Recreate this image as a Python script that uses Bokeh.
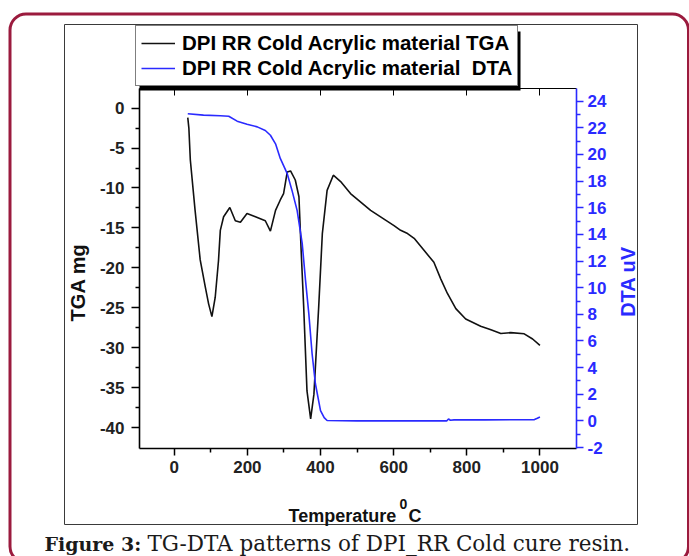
import math
from bokeh.plotting import figure
from bokeh.models import (LinearAxis, Range1d, FixedTicker, Legend, LegendItem,
                          Label, BoxAnnotation)
from bokeh.embed import file_html
from bokeh.resources import INLINE

# ---- data ----
temp_tga = [37, 40, 44, 57, 71, 85, 94, 103, 112, 121, 126, 135, 152, 167, 181, 199,
            222, 249, 263, 277, 290, 299, 309, 318, 331, 341, 347, 354, 363, 373,
            382, 395, 405, 418, 435, 455, 482, 537, 601, 619, 638, 656, 683, 710,
            729, 747, 770, 797, 838, 866, 893, 920, 957, 980, 1000]
tga = [-1.2, -2.5, -6.5, -12.8, -19.0, -22.4, -24.5, -26.1, -23.7, -19.1, -15.3,
       -13.6, -12.45, -14.1, -14.3, -13.2, -13.6, -14.1, -15.4, -12.8, -11.5, -10.7,
       -8.0, -7.86, -9.0, -11.1, -17.8, -24.9, -35.4, -38.9, -35.8, -24.9, -15.7,
       -10.3, -8.4, -9.2, -10.7, -12.8, -14.7, -15.3, -15.7, -16.3, -17.8, -19.3,
       -21.4, -23.2, -25.1, -26.4, -27.3, -27.75, -28.2, -28.1, -28.25, -28.9, -29.7]

temp_dta = [37, 80, 126, 149, 172, 199, 227, 249, 263, 277, 290, 309, 322, 336,
            350, 359, 368, 377, 386, 400, 410, 418, 500, 600, 700, 745, 750, 755,
            765, 850, 985, 993, 1000]
dta = [23.05, 22.95, 22.9, 22.87, 22.5, 22.27, 22.07, 21.8, 21.44, 20.8, 19.7,
       18.56, 17.3, 15.8, 13.3, 10.55, 8.05, 5.04, 2.79, 0.78, 0.25, 0.03, 0.0,
       0.0, 0.0, 0.0, 0.15, 0.05, 0.08, 0.08, 0.1, 0.2, 0.3]

x_ticks = [0, 200, 400, 600, 800, 1000]
x_minor = [100, 300, 500, 700, 900]
tga_ticks = [0, -5, -10, -15, -20, -25, -30, -35, -40]
tga_minor = [-2.5, -7.5, -12.5, -17.5, -22.5, -27.5, -32.5, -37.5]
dta_ticks = [-2, 0, 2, 4, 6, 8, 10, 12, 14, 16, 18, 20, 22, 24]
dta_minor = [-1, 1, 3, 5, 7, 9, 11, 13, 15, 17, 19, 21, 23]

x_lim = (-95, 1100)
tga_lim = (-42.6, 2.45)
dta_lim = (-2.07, 24.95)

legend_labels = ["DPI RR Cold Acrylic material TGA", "DPI RR Cold Acrylic material  DTA"]

# ---- layout (pixels) ----
W, H = 689, 556
PL, PR, PT, PB = 139, 576, 88, 448   # plot area edges on the canvas

def full_range(lo, hi, a, b, total):
    # range spanning the whole canvas so that lo..hi sits on pixels a..b
    per = (hi - lo) / (b - a)
    return Range1d(lo - a * per, hi + (total - b) * per)

FONT = "Liberation Sans"
BLUE = "#2a2aff"

p = figure(width=W, height=H, output_backend="svg", toolbar_location=None,
           x_axis_location=None, y_axis_location=None, min_border=0,
           x_range=full_range(x_lim[0], x_lim[1], PL, PR, W),
           y_range=full_range(tga_lim[0], tga_lim[1], H - PB, H - PT, H))
p.extra_y_ranges = {"dta": full_range(dta_lim[0], dta_lim[1], H - PB, H - PT, H)}
p.grid.visible = False
p.outline_line_color = None
p.background_fill_color = "white"
p.border_fill_color = "white"

def style_labels(ax, color, standoff):
    ax.major_label_text_font = FONT
    ax.major_label_text_font_style = "bold"
    ax.major_label_text_font_size = "17px"
    ax.major_label_text_color = color
    ax.major_label_standoff = standoff

def ticks(ax, tin, tout, min_out):
    ax.major_tick_in = tin
    ax.major_tick_out = tout
    ax.minor_tick_in = 0
    ax.minor_tick_out = min_out

# bottom axis
xa = LinearAxis(ticker=FixedTicker(ticks=x_ticks, minor_ticks=x_minor),
                fixed_location=tga_lim[0], bounds=x_lim)
ticks(xa, 0, 7, 4)
xa.axis_line_width = 1.6
xa.major_tick_line_width = 1.5
xa.minor_tick_line_width = 1.5
style_labels(xa, "#222222", 5)
xa.major_label_overrides = {t: str(t) for t in x_ticks}
p.add_layout(xa, "below")

# top axis (ticks only)
ta = LinearAxis(ticker=FixedTicker(ticks=x_ticks, minor_ticks=[]),
                fixed_location=tga_lim[1], bounds=x_lim)
ticks(ta, 7, 0, 0)
ta.axis_line_width = 1.2
ta.major_label_overrides = {t: "" for t in x_ticks}
p.add_layout(ta, "above")

# left axis
ya = LinearAxis(ticker=FixedTicker(ticks=tga_ticks, minor_ticks=tga_minor),
                fixed_location=x_lim[0], bounds=tga_lim)
ticks(ya, 0, 8, 4)
ya.axis_line_width = 1.6
ya.major_tick_line_width = 1.5
ya.minor_tick_line_width = 1.5
style_labels(ya, "#222222", 7)
ya.major_label_overrides = {t: str(t) for t in tga_ticks}
p.add_layout(ya, "left")

# right axis
ra = LinearAxis(y_range_name="dta",
                ticker=FixedTicker(ticks=dta_ticks, minor_ticks=dta_minor),
                fixed_location=x_lim[1], bounds=dta_lim)
ticks(ra, 0, 7, 4)
ra.axis_line_color = BLUE
ra.axis_line_width = 1.6
ra.major_tick_line_color = BLUE
ra.minor_tick_line_color = BLUE
ra.major_tick_line_width = 1.5
ra.minor_tick_line_width = 1.5
style_labels(ra, BLUE, 4)
ra.major_label_overrides = {t: str(t) for t in dta_ticks}
p.add_layout(ra, "right")

# curves
r1 = p.line(temp_tga, tga, line_color="#111111", line_width=1.6)
r2 = p.line(temp_dta, dta, line_color=BLUE, line_width=1.6, y_range_name="dta")

def sbox(**kw):
    return BoxAnnotation(left_units="screen", right_units="screen",
                         top_units="screen", bottom_units="screen", **kw)

# outer rounded frame and inner picture box
p.add_layout(sbox(left=9.5, right=688, top=H - 13.5, bottom=-6,
                  fill_color=None, line_color="#9b1b3e", line_alpha=1,
                  line_width=3, border_radius=16), "center")
p.add_layout(sbox(left=64, right=637, top=H - 24, bottom=H - 524,
                  fill_color=None, line_color="#3a3a3a", line_alpha=1,
                  line_width=1), "center")

# legend shadow
p.add_layout(sbox(left=139, right=520, top=H - 31, bottom=H - 90,
                  fill_color="black", fill_alpha=1, line_color=None), "center")

legend = Legend(items=[LegendItem(label=legend_labels[0], renderers=[r1]),
                       LegendItem(label=legend_labels[1], renderers=[r2])],
                location=(135, H - 86), margin=0, padding=5, spacing=1,
                glyph_width=34, glyph_height=24, label_height=24,
                label_standoff=7, label_text_font=FONT,
                label_text_font_style="bold", label_text_font_size="20.5px",
                label_text_color="black", border_line_color="black",
                border_line_width=1.5, background_fill_color="white",
                background_fill_alpha=1)
p.add_layout(legend, "center")

def slabel(x, y, text, size, **kw):
    opts = dict(text_font=FONT, text_font_style="bold", text_font_size=size,
                text_color="#111111", text_baseline="alphabetic", text_align="left")
    opts.update(kw)
    return Label(x=x, y=y, x_units="screen", y_units="screen", text=text, **opts)

# axis titles
p.add_layout(slabel(77, H - 282, "TGA mg", "20px", angle=math.pi / 2,
                    text_align="center", text_baseline="middle"), "center")
p.add_layout(slabel(627, H - 281, "DTA uV", "20px", angle=math.pi / 2,
                    text_align="center", text_baseline="middle",
                    text_color=BLUE), "center")
p.add_layout(slabel(288, H - 515, "Temperature", "18px"), "center")
p.add_layout(slabel(399, H - 503, "0", "14px"), "center")
p.add_layout(slabel(408, H - 515, "C", "18px"), "center")

# caption
p.add_layout(slabel(44, H - 543, "Figure 3:", "19px", text_font="DejaVu Serif",
                    text_color="#1a1a1a"), "center")
p.add_layout(slabel(147, H - 543, "TG-DTA patterns of DPI_RR Cold cure resin.", "21.5px",
                    text_font="DejaVu Serif", text_font_style="normal",
                    text_color="#1a1a1a"), "center")

open("out.html", "w").write(file_html(p, INLINE))
